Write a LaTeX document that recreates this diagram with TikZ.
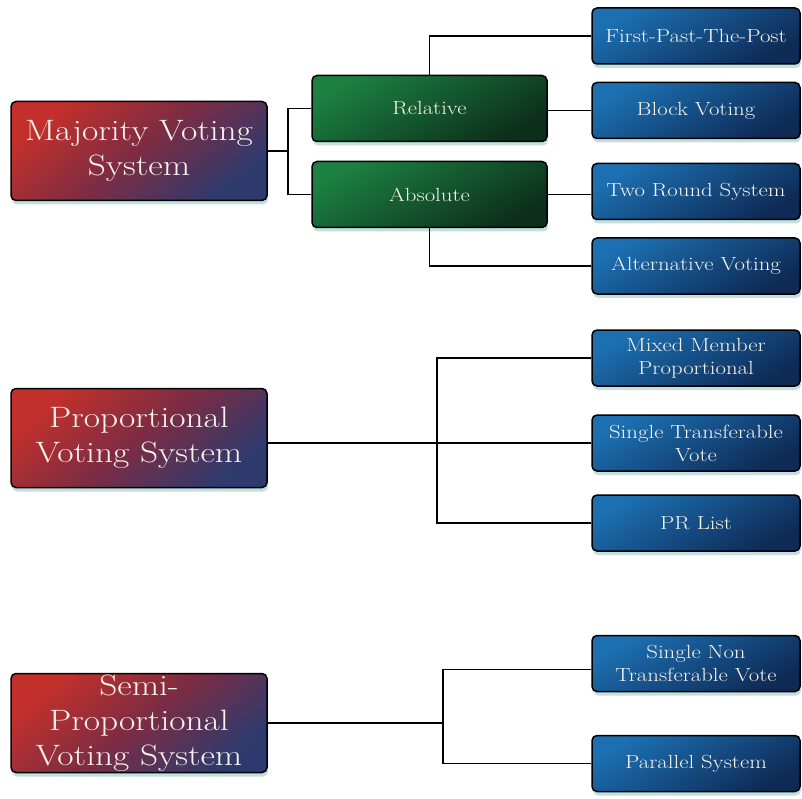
\documentclass[tikz,border=0pt]{standalone}
\usepackage{fontspec}
\setmainfont{Latin Modern Roman}[FakeStretch=1.2]
\usetikzlibrary{shadows}
\definecolor{redA}{HTML}{C3302B}
\definecolor{redM}{HTML}{7C2C44}
\definecolor{redB}{HTML}{2E3A6E}
\definecolor{grnA}{HTML}{1B8040}
\definecolor{grnB}{HTML}{0D2E1B}
\definecolor{bluA}{HTML}{1C70B2}
\definecolor{bluB}{HTML}{0E2A55}
\definecolor{txt}{HTML}{F6F2EC}
\definecolor{shd}{HTML}{9CCACA}
\tikzset{
  box/.style={draw=black, line width=1.5pt, rounded corners=5pt, text=txt, align=center, inner sep=0pt,
    drop shadow={fill=shd, opacity=0.6, shadow xshift=1pt, shadow yshift=-4pt}},
  mainbox/.style={box, minimum width=256pt, minimum height=99pt,
    top color=redA, bottom color=redB, middle color=redM, shading angle=40,
    font=\fontsize{29.5}{35}\selectfont},
  midbox/.style={box, minimum width=235pt, minimum height=66pt,
    top color=grnA, bottom color=grnB, shading angle=30,
    font=\fontsize{19}{23}\selectfont},
  leafbox/.style={box, minimum width=208pt, minimum height=56pt,
    top color=bluA, bottom color=bluB, shading angle=30,
    font=\fontsize{19}{23}\selectfont},
  link/.style={draw=black, line width=1.5pt}
}
\begin{document}
\begin{tikzpicture}[x=1pt,y=-1pt]
\useasboundingbox[fill=white] (0,0) rectangle (802,799);

% Majority
\node[mainbox] (maj) at (139,151) {Majority Voting\\System};
\node[midbox] (rel) at (429.5,108.5) {Relative};
\node[midbox] (abs) at (429.5,194.5) {Absolute};
\node[leafbox] (fpp) at (696,36) {First-Past-The-Post};
\node[leafbox] (bv) at (696,110.5) {Block Voting};
\node[leafbox] (trs) at (696,191.5) {Two Round System};
\node[leafbox] (av) at (696,266) {Alternative Voting};

% Proportional
\node[mainbox] (prop) at (139,438) {Proportional\\Voting System};
\node[leafbox] (mmp) at (696,358) {Mixed Member\\Proportional};
\node[leafbox] (stv) at (696,443) {Single Transferable\\Vote};
\node[leafbox] (prl) at (696,523) {PR List};

% Semi-proportional
\node[mainbox] (semi) at (139,723) {Semi-\\Proportional\\Voting System};
\node[leafbox] (sntv) at (696,663.5) {Single Non\\Transferable Vote};
\node[leafbox] (par) at (696,763.5) {Parallel System};

% connectors
\coordinate (j1) at (288,151);
\draw[link] (maj.east) -- (j1);
\draw[link] (rel.west) -| (j1) |- (abs.west);
\draw[link] (rel.north) |- (fpp.west);
\draw[link] (rel.east |- bv.west) -- (bv.west);
\draw[link] (abs.east) -- (trs.west |- abs.east);
\draw[link] (abs.south) |- (av.west);

\coordinate (j2) at (437,443);
\draw[link] (prop.east |- stv.west) -- (stv.west);
\draw[link] (mmp.west) -| (j2) |- (prl.west);

\coordinate (j3) at (443,723);
\draw[link] (semi.east) -- (j3);
\draw[link] ([yshift=-6pt]sntv.west) -| (j3) |- (par.west);
\end{tikzpicture}
\end{document}
